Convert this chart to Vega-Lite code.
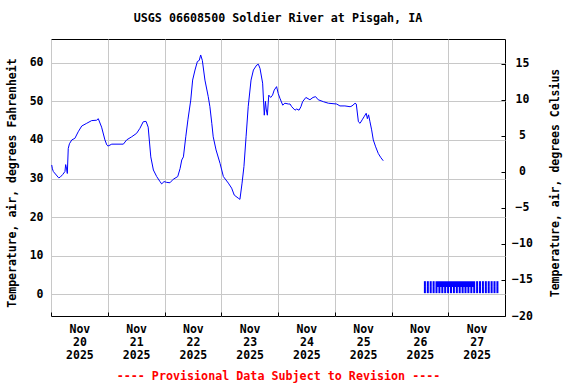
{
  "$schema": "https://vega.github.io/schema/vega-lite/v6.json",
  "width": 454,
  "height": 277,
  "autosize": "none",
  "padding": {"left": 51, "top": 39, "right": 71, "bottom": 68},
  "background": "white",
  "title": {"text": "USGS 06608500 Soldier River at Pisgah, IA", "font": "DejaVu Sans Mono", "fontSize": 11.7, "fontWeight": "bold", "color": "#000000", "anchor": "middle", "offset": 14},
  "config": {
    "view": {"stroke": "#000000", "strokeWidth": 1},
    "axis": {"labelFont": "DejaVu Sans Mono", "labelFontWeight": "bold", "labelFontSize": 11.5, "labelColor": "#000000", "titleFont": "DejaVu Sans Mono", "titleFontWeight": "bold", "titleFontSize": 11.5, "titleColor": "#000000", "gridColor": "#c8c8c8", "gridWidth": 1, "gridOpacity": 1}
  },
  "datasets": {
    "temp": [
      {"t": "2025-11-20T00:18", "f": 33.5}, {"t": "2025-11-20T00:36", "f": 32.5}, {"t": "2025-11-20T01:00", "f": 31.8},
      {"t": "2025-11-20T03:12", "f": 30.2}, {"t": "2025-11-20T03:48", "f": 30.3}, {"t": "2025-11-20T04:54", "f": 31.0},
      {"t": "2025-11-20T05:54", "f": 31.8}, {"t": "2025-11-20T06:12", "f": 33.6}, {"t": "2025-11-20T06:36", "f": 32.5},
      {"t": "2025-11-20T06:54", "f": 31.3}, {"t": "2025-11-20T07:18", "f": 37.8}, {"t": "2025-11-20T07:48", "f": 39.0},
      {"t": "2025-11-20T08:48", "f": 40.0}, {"t": "2025-11-20T10:06", "f": 40.4}, {"t": "2025-11-20T11:30", "f": 42.1},
      {"t": "2025-11-20T13:00", "f": 43.6}, {"t": "2025-11-20T15:06", "f": 44.3}, {"t": "2025-11-20T17:12", "f": 45.0},
      {"t": "2025-11-20T19:18", "f": 45.1}, {"t": "2025-11-20T20:00", "f": 45.5}, {"t": "2025-11-20T21:24", "f": 43.3},
      {"t": "2025-11-20T22:48", "f": 40.0}, {"t": "2025-11-20T23:36", "f": 38.7}, {"t": "2025-11-21T00:06", "f": 38.4},
      {"t": "2025-11-21T01:42", "f": 38.9}, {"t": "2025-11-21T06:36", "f": 38.9}, {"t": "2025-11-21T08:00", "f": 40.0},
      {"t": "2025-11-21T10:06", "f": 40.8}, {"t": "2025-11-21T12:12", "f": 41.7}, {"t": "2025-11-21T13:36", "f": 43.0},
      {"t": "2025-11-21T15:00", "f": 44.7}, {"t": "2025-11-21T16:12", "f": 44.8}, {"t": "2025-11-21T17:06", "f": 43.3},
      {"t": "2025-11-21T18:12", "f": 35.6}, {"t": "2025-11-21T19:18", "f": 32.2}, {"t": "2025-11-21T20:42", "f": 30.5},
      {"t": "2025-11-21T22:06", "f": 29.2}, {"t": "2025-11-21T22:48", "f": 28.6}, {"t": "2025-11-21T23:48", "f": 29.2},
      {"t": "2025-11-22T00:54", "f": 29.0}, {"t": "2025-11-22T02:18", "f": 28.9}, {"t": "2025-11-22T03:42", "f": 29.8},
      {"t": "2025-11-22T05:36", "f": 30.5}, {"t": "2025-11-22T06:36", "f": 32.6}, {"t": "2025-11-22T07:18", "f": 34.8},
      {"t": "2025-11-22T08:00", "f": 35.6}, {"t": "2025-11-22T09:00", "f": 40.8}, {"t": "2025-11-22T09:54", "f": 45.2},
      {"t": "2025-11-22T11:06", "f": 50.3}, {"t": "2025-11-22T11:54", "f": 55.5}, {"t": "2025-11-22T12:54", "f": 58.1},
      {"t": "2025-11-22T13:54", "f": 60.3}, {"t": "2025-11-22T14:42", "f": 60.6}, {"t": "2025-11-22T15:18", "f": 62.0},
      {"t": "2025-11-22T16:00", "f": 60.6}, {"t": "2025-11-22T17:06", "f": 55.5}, {"t": "2025-11-22T18:30", "f": 51.2},
      {"t": "2025-11-22T19:12", "f": 48.6}, {"t": "2025-11-22T20:00", "f": 44.3}, {"t": "2025-11-22T20:36", "f": 40.8},
      {"t": "2025-11-22T21:48", "f": 37.4}, {"t": "2025-11-22T23:30", "f": 33.9}, {"t": "2025-11-23T00:54", "f": 30.5},
      {"t": "2025-11-23T03:00", "f": 28.8}, {"t": "2025-11-23T04:24", "f": 27.5}, {"t": "2025-11-23T05:30", "f": 25.7},
      {"t": "2025-11-23T07:12", "f": 24.9}, {"t": "2025-11-23T07:54", "f": 24.6}, {"t": "2025-11-23T08:48", "f": 28.8},
      {"t": "2025-11-23T09:36", "f": 33.1}, {"t": "2025-11-23T10:30", "f": 40.8}, {"t": "2025-11-23T11:24", "f": 48.6},
      {"t": "2025-11-23T12:36", "f": 55.5}, {"t": "2025-11-23T13:36", "f": 58.1}, {"t": "2025-11-23T15:00", "f": 59.4},
      {"t": "2025-11-23T15:42", "f": 59.6}, {"t": "2025-11-23T16:24", "f": 58.5}, {"t": "2025-11-23T17:30", "f": 54.7},
      {"t": "2025-11-23T18:12", "f": 46.4}, {"t": "2025-11-23T18:42", "f": 50.0}, {"t": "2025-11-23T19:00", "f": 48.0},
      {"t": "2025-11-23T19:30", "f": 46.4}, {"t": "2025-11-23T20:06", "f": 51.6}, {"t": "2025-11-23T20:54", "f": 51.0},
      {"t": "2025-11-23T21:42", "f": 51.6}, {"t": "2025-11-23T22:24", "f": 52.9}, {"t": "2025-11-23T23:24", "f": 53.8},
      {"t": "2025-11-24T00:06", "f": 52.0}, {"t": "2025-11-24T00:48", "f": 50.8}, {"t": "2025-11-24T02:00", "f": 49.0},
      {"t": "2025-11-24T02:54", "f": 49.5}, {"t": "2025-11-24T04:24", "f": 49.3}, {"t": "2025-11-24T05:06", "f": 49.3},
      {"t": "2025-11-24T05:48", "f": 48.6}, {"t": "2025-11-24T07:12", "f": 47.7}, {"t": "2025-11-24T07:54", "f": 48.0},
      {"t": "2025-11-24T08:54", "f": 47.7}, {"t": "2025-11-24T09:42", "f": 48.6}, {"t": "2025-11-24T10:24", "f": 49.9},
      {"t": "2025-11-24T11:48", "f": 51.0}, {"t": "2025-11-24T13:30", "f": 50.4}, {"t": "2025-11-24T14:48", "f": 51.0},
      {"t": "2025-11-24T15:54", "f": 51.2}, {"t": "2025-11-24T17:00", "f": 50.4}, {"t": "2025-11-24T19:12", "f": 49.9},
      {"t": "2025-11-24T21:18", "f": 49.5}, {"t": "2025-11-25T00:48", "f": 49.3}, {"t": "2025-11-25T02:12", "f": 48.8},
      {"t": "2025-11-25T04:18", "f": 48.8}, {"t": "2025-11-25T06:30", "f": 48.6}, {"t": "2025-11-25T07:18", "f": 48.8},
      {"t": "2025-11-25T08:36", "f": 49.5}, {"t": "2025-11-25T09:06", "f": 49.3}, {"t": "2025-11-25T10:00", "f": 44.7},
      {"t": "2025-11-25T10:42", "f": 44.3}, {"t": "2025-11-25T11:36", "f": 45.2}, {"t": "2025-11-25T12:24", "f": 46.0},
      {"t": "2025-11-25T13:18", "f": 46.9}, {"t": "2025-11-25T13:48", "f": 45.5}, {"t": "2025-11-25T14:18", "f": 46.5},
      {"t": "2025-11-25T14:54", "f": 44.7}, {"t": "2025-11-25T15:36", "f": 42.6}, {"t": "2025-11-25T16:18", "f": 40.0},
      {"t": "2025-11-25T17:18", "f": 38.2}, {"t": "2025-11-25T18:24", "f": 36.5}, {"t": "2025-11-25T19:24", "f": 35.5},
      {"t": "2025-11-25T20:30", "f": 34.6}
    ],
    "flags": [
      {"t0": "2025-11-26T13:42", "t1": "2025-11-26T14:33", "lo": 0.3, "hi": 1.9},
      {"t0": "2025-11-26T14:56", "t1": "2025-11-26T15:47", "lo": 0.3, "hi": 1.9},
      {"t0": "2025-11-26T16:09", "t1": "2025-11-26T17:00", "lo": 0.3, "hi": 1.9},
      {"t0": "2025-11-26T17:23", "t1": "2025-11-26T18:14", "lo": 0.3, "hi": 1.9},
      {"t0": "2025-11-26T18:36", "t1": "2025-11-26T19:27", "lo": 0.3, "hi": 1.9},
      {"t0": "2025-11-26T19:50", "t1": "2025-11-26T20:41", "lo": 0.3, "hi": 1.9},
      {"t0": "2025-11-26T21:04", "t1": "2025-11-26T21:55", "lo": 0.3, "hi": 1.9},
      {"t0": "2025-11-26T22:17", "t1": "2025-11-26T23:08", "lo": 0.3, "hi": 1.9},
      {"t0": "2025-11-26T23:31", "t1": "2025-11-27T00:22", "lo": 0.3, "hi": 1.9},
      {"t0": "2025-11-27T00:44", "t1": "2025-11-27T01:35", "lo": 0.3, "hi": 1.9},
      {"t0": "2025-11-27T01:58", "t1": "2025-11-27T02:49", "lo": 0.3, "hi": 1.9},
      {"t0": "2025-11-27T03:12", "t1": "2025-11-27T04:03", "lo": 0.3, "hi": 1.9},
      {"t0": "2025-11-27T04:25", "t1": "2025-11-27T05:16", "lo": 0.3, "hi": 1.9},
      {"t0": "2025-11-27T05:39", "t1": "2025-11-27T06:30", "lo": 0.3, "hi": 1.9},
      {"t0": "2025-11-27T06:52", "t1": "2025-11-27T07:43", "lo": 0.3, "hi": 1.9},
      {"t0": "2025-11-27T08:06", "t1": "2025-11-27T08:57", "lo": 0.3, "hi": 1.9},
      {"t0": "2025-11-27T09:20", "t1": "2025-11-27T10:11", "lo": 0.3, "hi": 1.9},
      {"t0": "2025-11-27T10:33", "t1": "2025-11-27T11:24", "lo": 0.3, "hi": 1.9},
      {"t0": "2025-11-27T11:47", "t1": "2025-11-27T12:38", "lo": 0.3, "hi": 1.9},
      {"t0": "2025-11-27T13:00", "t1": "2025-11-27T13:51", "lo": 0.3, "hi": 1.9},
      {"t0": "2025-11-27T14:14", "t1": "2025-11-27T15:05", "lo": 0.3, "hi": 1.9},
      {"t0": "2025-11-27T15:28", "t1": "2025-11-27T16:19", "lo": 0.3, "hi": 1.9},
      {"t0": "2025-11-27T16:41", "t1": "2025-11-27T17:32", "lo": 0.3, "hi": 1.9},
      {"t0": "2025-11-27T17:55", "t1": "2025-11-27T18:46", "lo": 0.3, "hi": 1.9},
      {"t0": "2025-11-27T19:08", "t1": "2025-11-27T19:59", "lo": 0.3, "hi": 1.9},
      {"t0": "2025-11-27T20:22", "t1": "2025-11-27T21:13", "lo": 0.3, "hi": 1.9},
      {"t0": "2025-11-26T13:42", "t1": "2025-11-26T14:33", "lo": 1.9, "hi": 3.4},
      {"t0": "2025-11-26T14:56", "t1": "2025-11-26T15:47", "lo": 1.9, "hi": 3.4},
      {"t0": "2025-11-26T16:09", "t1": "2025-11-26T17:00", "lo": 1.9, "hi": 3.4},
      {"t0": "2025-11-26T17:23", "t1": "2025-11-26T18:14", "lo": 1.9, "hi": 3.4},
      {"t0": "2025-11-26T18:36", "t1": "2025-11-27T11:24", "lo": 1.9, "hi": 3.4},
      {"t0": "2025-11-27T11:47", "t1": "2025-11-27T12:38", "lo": 1.9, "hi": 3.4},
      {"t0": "2025-11-27T13:00", "t1": "2025-11-27T13:51", "lo": 1.9, "hi": 3.4},
      {"t0": "2025-11-27T14:14", "t1": "2025-11-27T15:05", "lo": 1.9, "hi": 3.4},
      {"t0": "2025-11-27T15:28", "t1": "2025-11-27T16:19", "lo": 1.9, "hi": 3.4},
      {"t0": "2025-11-27T16:41", "t1": "2025-11-27T17:32", "lo": 1.9, "hi": 3.4},
      {"t0": "2025-11-27T17:55", "t1": "2025-11-27T18:46", "lo": 1.9, "hi": 3.4},
      {"t0": "2025-11-27T19:08", "t1": "2025-11-27T19:59", "lo": 1.9, "hi": 3.4},
      {"t0": "2025-11-27T20:22", "t1": "2025-11-27T21:13", "lo": 1.9, "hi": 3.4}
    ],
    "cel": [{"c": -20}, {"c": 15}]
  },
  "layer": [
    {
      "data": {"name": "flags"},
      "mark": {"type": "rect", "color": "#0000ff"},
      "encoding": {
        "x": {
          "field": "t0", "type": "temporal",
          "scale": {"domain": [{"year": 2025, "month": "nov", "date": 20}, {"year": 2025, "month": "nov", "date": 28}]},
          "axis": {
            "values": [
              {"year": 2025, "month": "nov", "date": 20}, {"year": 2025, "month": "nov", "date": 21},
              {"year": 2025, "month": "nov", "date": 22}, {"year": 2025, "month": "nov", "date": 23},
              {"year": 2025, "month": "nov", "date": 24}, {"year": 2025, "month": "nov", "date": 25},
              {"year": 2025, "month": "nov", "date": 26}, {"year": 2025, "month": "nov", "date": 27}
            ],
            "grid": true, "domain": false, "tickSize": -4, "tickColor": "#000000",
            "labelExpr": "[timeFormat(datum.value, '%b'), timeFormat(datum.value, '%d'), timeFormat(datum.value, '%Y')]",
            "labelOffset": 28.4, "labelPadding": 11, "labelLineHeight": 13, "labelFlush": false, "labelOverlap": false, "labelBound": false,
            "title": "---- Provisional Data Subject to Revision ----", "titleColor": "#ff0000", "titleFontSize": 11.7,
            "titleX": 227, "titleY": 59, "titleBaseline": "middle", "titleAlign": "center"
          }
        },
        "x2": {"field": "t1"},
        "y": {
          "field": "lo", "type": "quantitative",
          "scale": {"domain": [-5.62, 66.14], "nice": false, "zero": false},
          "axis": {
            "values": [0, 10, 20, 30, 40, 50, 60], "grid": true, "ticks": false, "domain": false, "labelPadding": 8,
            "title": "Temperature, air, degrees Fahrenheit", "titleAngle": 270, "titleX": -39, "titleY": 143.5,
            "titleBaseline": "middle", "titleAlign": "center"
          }
        },
        "y2": {"field": "hi"}
      }
    },
    {
      "data": {"name": "cel"},
      "mark": {"type": "point", "opacity": 0},
      "encoding": {
        "y": {
          "field": "c", "type": "quantitative",
          "scale": {"domain": [-20, 18.4], "nice": false, "zero": false},
          "axis": {
            "orient": "right", "values": [-20, -15, -10, -5, 0, 5, 10, 15], "grid": false, "domain": false,
            "tickSize": -4, "tickColor": "#000000", "labelAlign": "center", "labelPadding": 21, "labelFlush": false,
            "title": "Temperature, air, degrees Celsius", "titleAngle": 270, "titleX": 50, "titleY": 143.5,
            "titleBaseline": "middle", "titleAlign": "center"
          }
        }
      }
    },
    {
      "data": {"name": "temp"},
      "mark": {"type": "line", "color": "#0000ff", "strokeWidth": 1},
      "encoding": {
        "x": {
          "field": "t", "type": "temporal",
          "scale": {"domain": [{"year": 2025, "month": "nov", "date": 20}, {"year": 2025, "month": "nov", "date": 28}]},
          "axis": {
            "values": [
              {"year": 2025, "month": "nov", "date": 20}, {"year": 2025, "month": "nov", "date": 21},
              {"year": 2025, "month": "nov", "date": 22}, {"year": 2025, "month": "nov", "date": 23},
              {"year": 2025, "month": "nov", "date": 24}, {"year": 2025, "month": "nov", "date": 25},
              {"year": 2025, "month": "nov", "date": 26}, {"year": 2025, "month": "nov", "date": 27}
            ],
            "grid": true, "domain": false, "tickSize": -4, "tickColor": "#000000",
            "labelExpr": "[timeFormat(datum.value, '%b'), timeFormat(datum.value, '%d'), timeFormat(datum.value, '%Y')]",
            "labelOffset": 28.4, "labelPadding": 11, "labelLineHeight": 13, "labelFlush": false, "labelOverlap": false, "labelBound": false,
            "title": "---- Provisional Data Subject to Revision ----", "titleColor": "#ff0000", "titleFontSize": 11.7,
            "titleX": 227, "titleY": 59, "titleBaseline": "middle", "titleAlign": "center"
          }
        },
        "y": {"field": "f", "type": "quantitative", "axis": null, "scale": {"domain": [-5.62, 66.14], "nice": false, "zero": false}}
      }
    }
  ],
  "resolve": {"scale": {"y": "independent"}, "axis": {"y": "independent"}}
}
